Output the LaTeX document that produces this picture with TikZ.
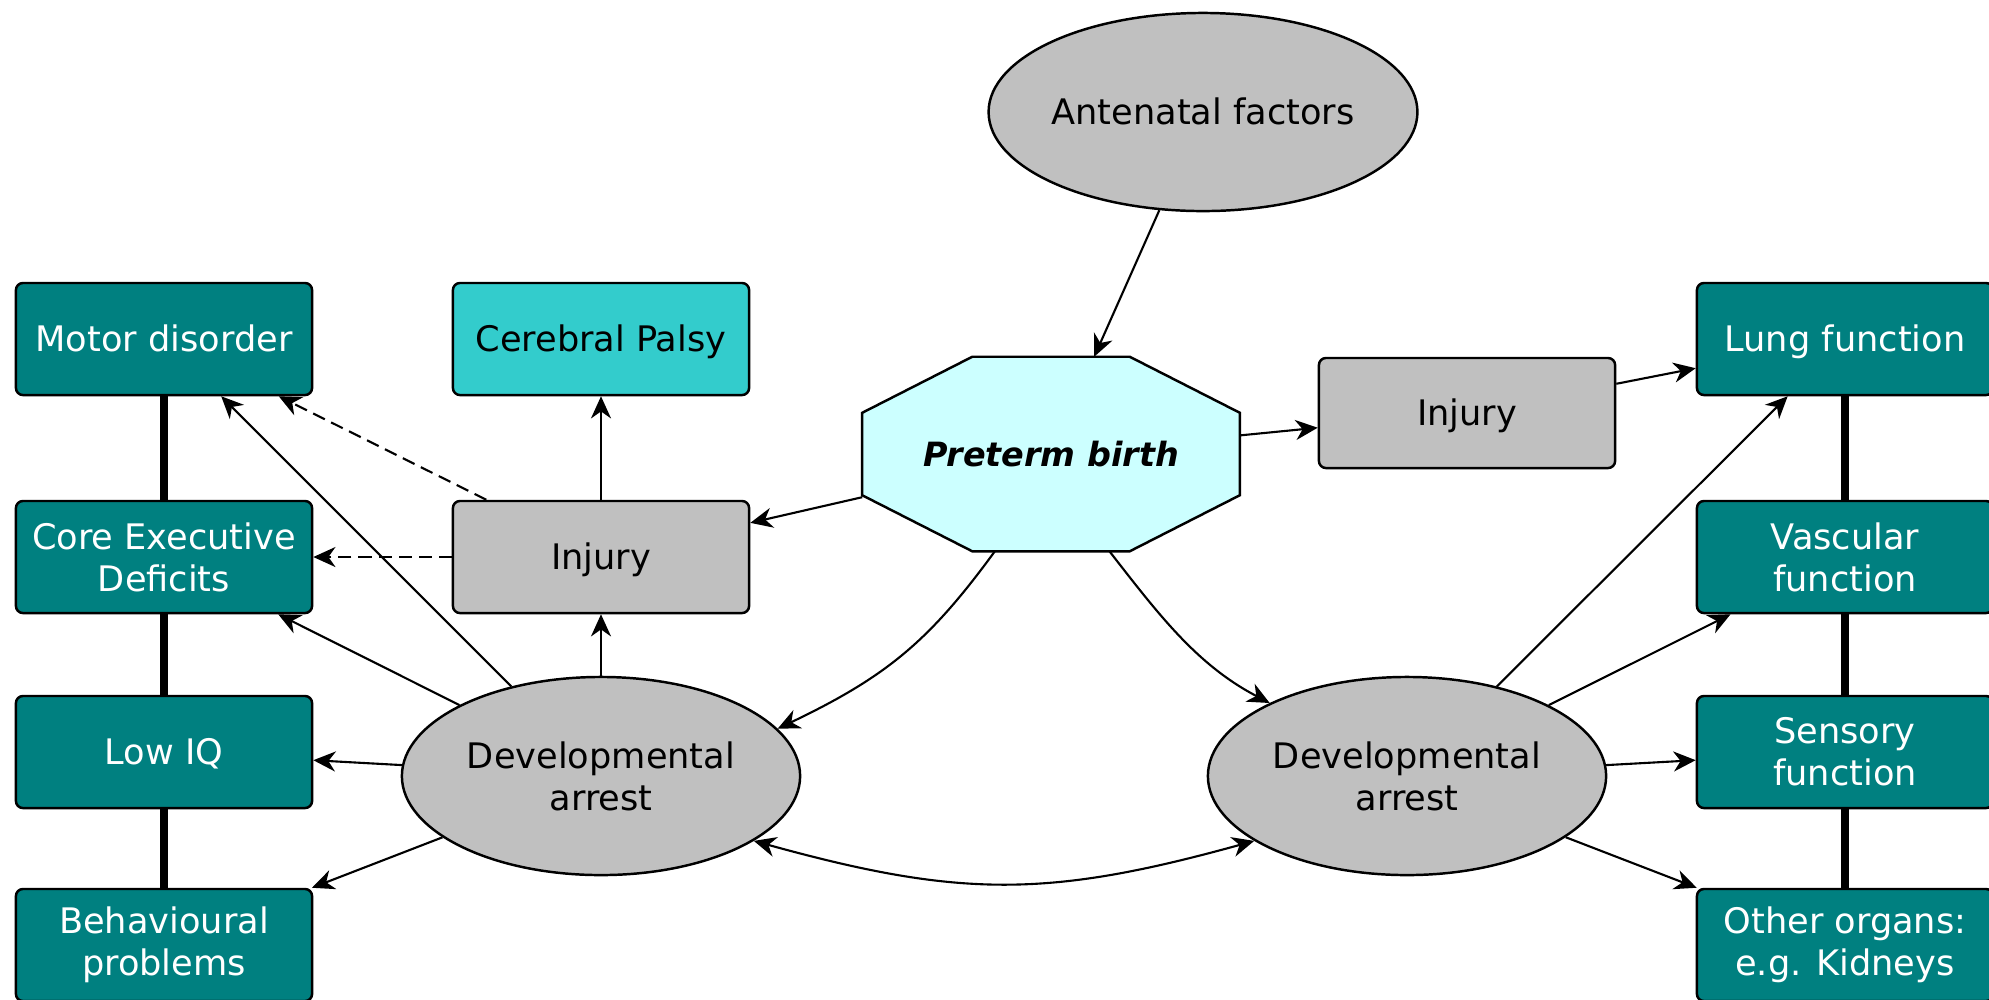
\documentclass[tikz,border=0pt]{standalone}
\usepackage{fontspec}
\setmainfont{DejaVu Sans}
\usetikzlibrary{positioning,arrows.meta,shapes.geometric,backgrounds}

\definecolor{outteal}{HTML}{008080}
\definecolor{palsyteal}{HTML}{33CCCC}
\definecolor{causegrey}{HTML}{C0C0C0}
\definecolor{pretermcyan}{HTML}{CCFFFF}

\begin{document}
\begin{tikzpicture}[x=0.01cm, y=-0.01cm,
    >={Stealth[length=6.3pt, width=5.7pt, inset=2pt]},
    oneline/.style={text height=7.3pt, text depth=0pt},
    outbox/.style={draw, line width=0.7pt, rounded corners=2pt, fill=outteal, text=white, align=center, minimum width=2.96cm, minimum height=1.12cm, inner sep=0pt},
    greybox/.style={draw, line width=0.7pt, rounded corners=2pt, fill=causegrey, align=center, minimum width=2.96cm, minimum height=1.12cm, inner sep=0pt},
    oval/.style={draw, line width=0.7pt, ellipse, fill=causegrey, align=center, minimum width=3.98cm, minimum height=1.98cm, inner sep=0pt},
    octa/.style={minimum width=3.76cm, minimum height=1.93cm, inner sep=0pt, text height=6.9pt, text depth=0pt,
        font=\fontsize{9.5}{11}\selectfont\bfseries\itshape},
    arrow/.style={->, line width=0.6pt},
    biarrow/.style={<->, line width=0.6pt},
    dasharrow/.style={arrow, dash pattern=on 3.7pt off 2pt},
    bar/.style={line width=2.3pt}
]
\useasboundingbox (0,0) rectangle (1989,999);

% Nodos centrales
\node[oval, oneline] (ante) at (1203,112) {Antenatal factors};
\node[octa] (pre) at (1051,454) {Preterm birth};
\node[greybox, oneline] (injL) at (601,557) {Injury};
\node[greybox, oneline, minimum height=1.10cm] (injR) at (1467,413) {Injury};
\node[greybox, oneline, fill=palsyteal] (palsy) at (601,339) {Cerebral Palsy};
\node[oval] (devL) at (601,776) {Developmental\\arrest};
\node[oval] (devR) at (1407,776) {Developmental\\arrest};

% Columna izquierda
\node[outbox, oneline] (motor) at (164,339) {Motor disorder};
\node[outbox] (core)  at (164,557) {Core Executive\\Deficits};
\node[outbox, oneline] (lowiq) at (164,752) {Low IQ};
\node[outbox] (behav) at (164,945) {Behavioural\\problems};

% Columna derecha
\node[outbox, oneline] (lung)  at (1845,339) {Lung function};
\node[outbox] (vasc)  at (1845,557) {Vascular\\function};
\node[outbox] (sens)  at (1845,752) {Sensory\\function};
\node[outbox] (other) at (1845,945) {Other organs:\\e.g. Kidneys};

% Octogono y barras verticales (detras)
\begin{scope}[on background layer]
\draw[line width=0.7pt, fill=pretermcyan]
    ([xshift=1.1cm]pre.north west) -- ([xshift=-1.1cm]pre.north east)
    -- ([yshift=-0.56cm]pre.north east) -- ([yshift=0.56cm]pre.south east)
    -- ([xshift=-1.1cm]pre.south east) -- ([xshift=1.1cm]pre.south west)
    -- ([yshift=0.56cm]pre.south west) -- ([yshift=-0.56cm]pre.north west) -- cycle;
\draw[bar] (motor) -- (behav);
\draw[bar] (lung) -- (other);
\end{scope}

% Flechas centrales
\draw[arrow] (ante) -- (pre);
\draw[arrow] (pre) -- (injL);
\draw[arrow] (pre) -- (injR);
\draw[arrow] (injR) -- (lung);
\draw[arrow] (pre.240) .. controls (930,640) and (888,676) .. (devL.15);
\draw[arrow] (pre.301) .. controls (1159,615) and (1197,665) .. (devR.152);
\draw[biarrow] (devL.-23) .. controls (960,898) and (1048,898) .. (devR.203);

% Flechas izquierda
\draw[arrow] (injL) -- (palsy);
\draw[dasharrow] (injL) -- (motor);
\draw[dasharrow] (injL) -- (core);
\draw[arrow] (devL) -- (injL);
\draw[arrow] (devL) -- (motor);
\draw[arrow] (devL) -- (core);
\draw[arrow] (devL) -- (lowiq);
\draw[arrow] (devL) -- (behav);

% Flechas derecha
\draw[arrow] (devR) -- (lung);
\draw[arrow] (devR) -- (vasc);
\draw[arrow] (devR) -- (sens);
\draw[arrow] (devR) -- (other);
\end{tikzpicture}
\end{document}
